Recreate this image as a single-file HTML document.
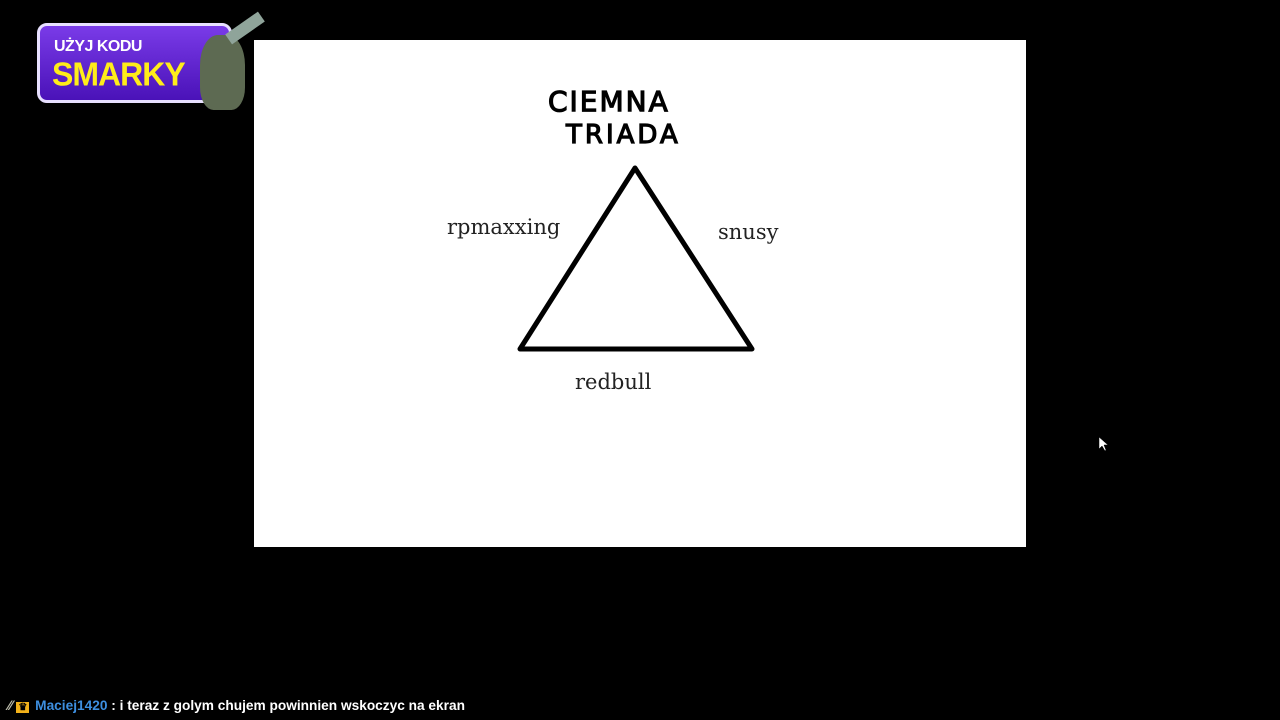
<!DOCTYPE html>
<html><head><meta charset="utf-8"><style>
html,body{margin:0;padding:0;background:#000;width:1280px;height:720px;overflow:hidden;position:relative;font-family:"Liberation Sans",sans-serif}
.board{position:absolute;left:254px;top:40px;width:772px;height:507px;background:#fff}
.lbl{position:absolute;font-family:"DejaVu Serif",serif;font-size:21px;color:#222;line-height:1}
.logo{position:absolute;left:37px;top:23px;width:195px;height:80px;border-radius:10px;background:linear-gradient(#7a3be8,#4a12b8);border:3px solid #e8e0ff;box-sizing:border-box}
.chat{position:absolute;left:8px;top:698px;font-size:13.7px;font-weight:bold;color:#fff;white-space:nowrap}
</style></head><body>
<div class="board"></div>
<div class="logo">
<div style="position:absolute;left:14px;top:12px;color:#fff;font-weight:bold;font-size:16px;letter-spacing:-0.5px">UŻYJ KODU</div>
<div style="position:absolute;left:12px;top:30px;color:#ffec1a;font-weight:bold;font-size:32px;letter-spacing:-1px;transform:scaleY(1.05)">SMARKY</div>
</div>
<div style="position:absolute;left:200px;top:35px;width:45px;height:75px;background:#5d6a52;border-radius:40% 40% 30% 30%"></div>
<div style="position:absolute;left:225px;top:22px;width:40px;height:12px;background:#8fa49a;transform:rotate(-35deg)"></div>
<div style="position:absolute;left:548px;top:88px;font-family:'DejaVu Sans',sans-serif;font-size:28px;color:#000;letter-spacing:2px;line-height:1;-webkit-text-stroke:1.2px #000">CIEMNA</div>
<div style="position:absolute;left:566px;top:122px;font-family:'DejaVu Sans',sans-serif;font-size:26px;color:#000;letter-spacing:3px;line-height:1;-webkit-text-stroke:1.2px #000">TRIADA</div>
<svg style="position:absolute;left:0;top:0" width="1280" height="720">
<polygon points="635,168 520,349 752,349" fill="none" stroke="#000" stroke-width="5" stroke-linejoin="round"/>
<polygon points="1099,437 1099,449 1102,446 1105,451 1106,450 1104,445 1108,445" fill="#fff" stroke="#000" stroke-width="0.5"/>
</svg>
<div class="lbl" style="left:447px;top:217px">rpmaxxing</div>
<div class="lbl" style="left:718px;top:222px">snusy</div>
<div class="lbl" style="left:575px;top:372px">redbull</div>
<div class="chat"><span style="color:#bba">⁄⁄</span> <span style="background:#f3b21a;color:#000;font-size:10px;padding:0 2px">♛</span> <span style="color:#3d8fe0;margin-left:2px">Maciej1420</span> : i teraz z golym chujem powinnien wskoczyc na ekran</div>
</body></html>
